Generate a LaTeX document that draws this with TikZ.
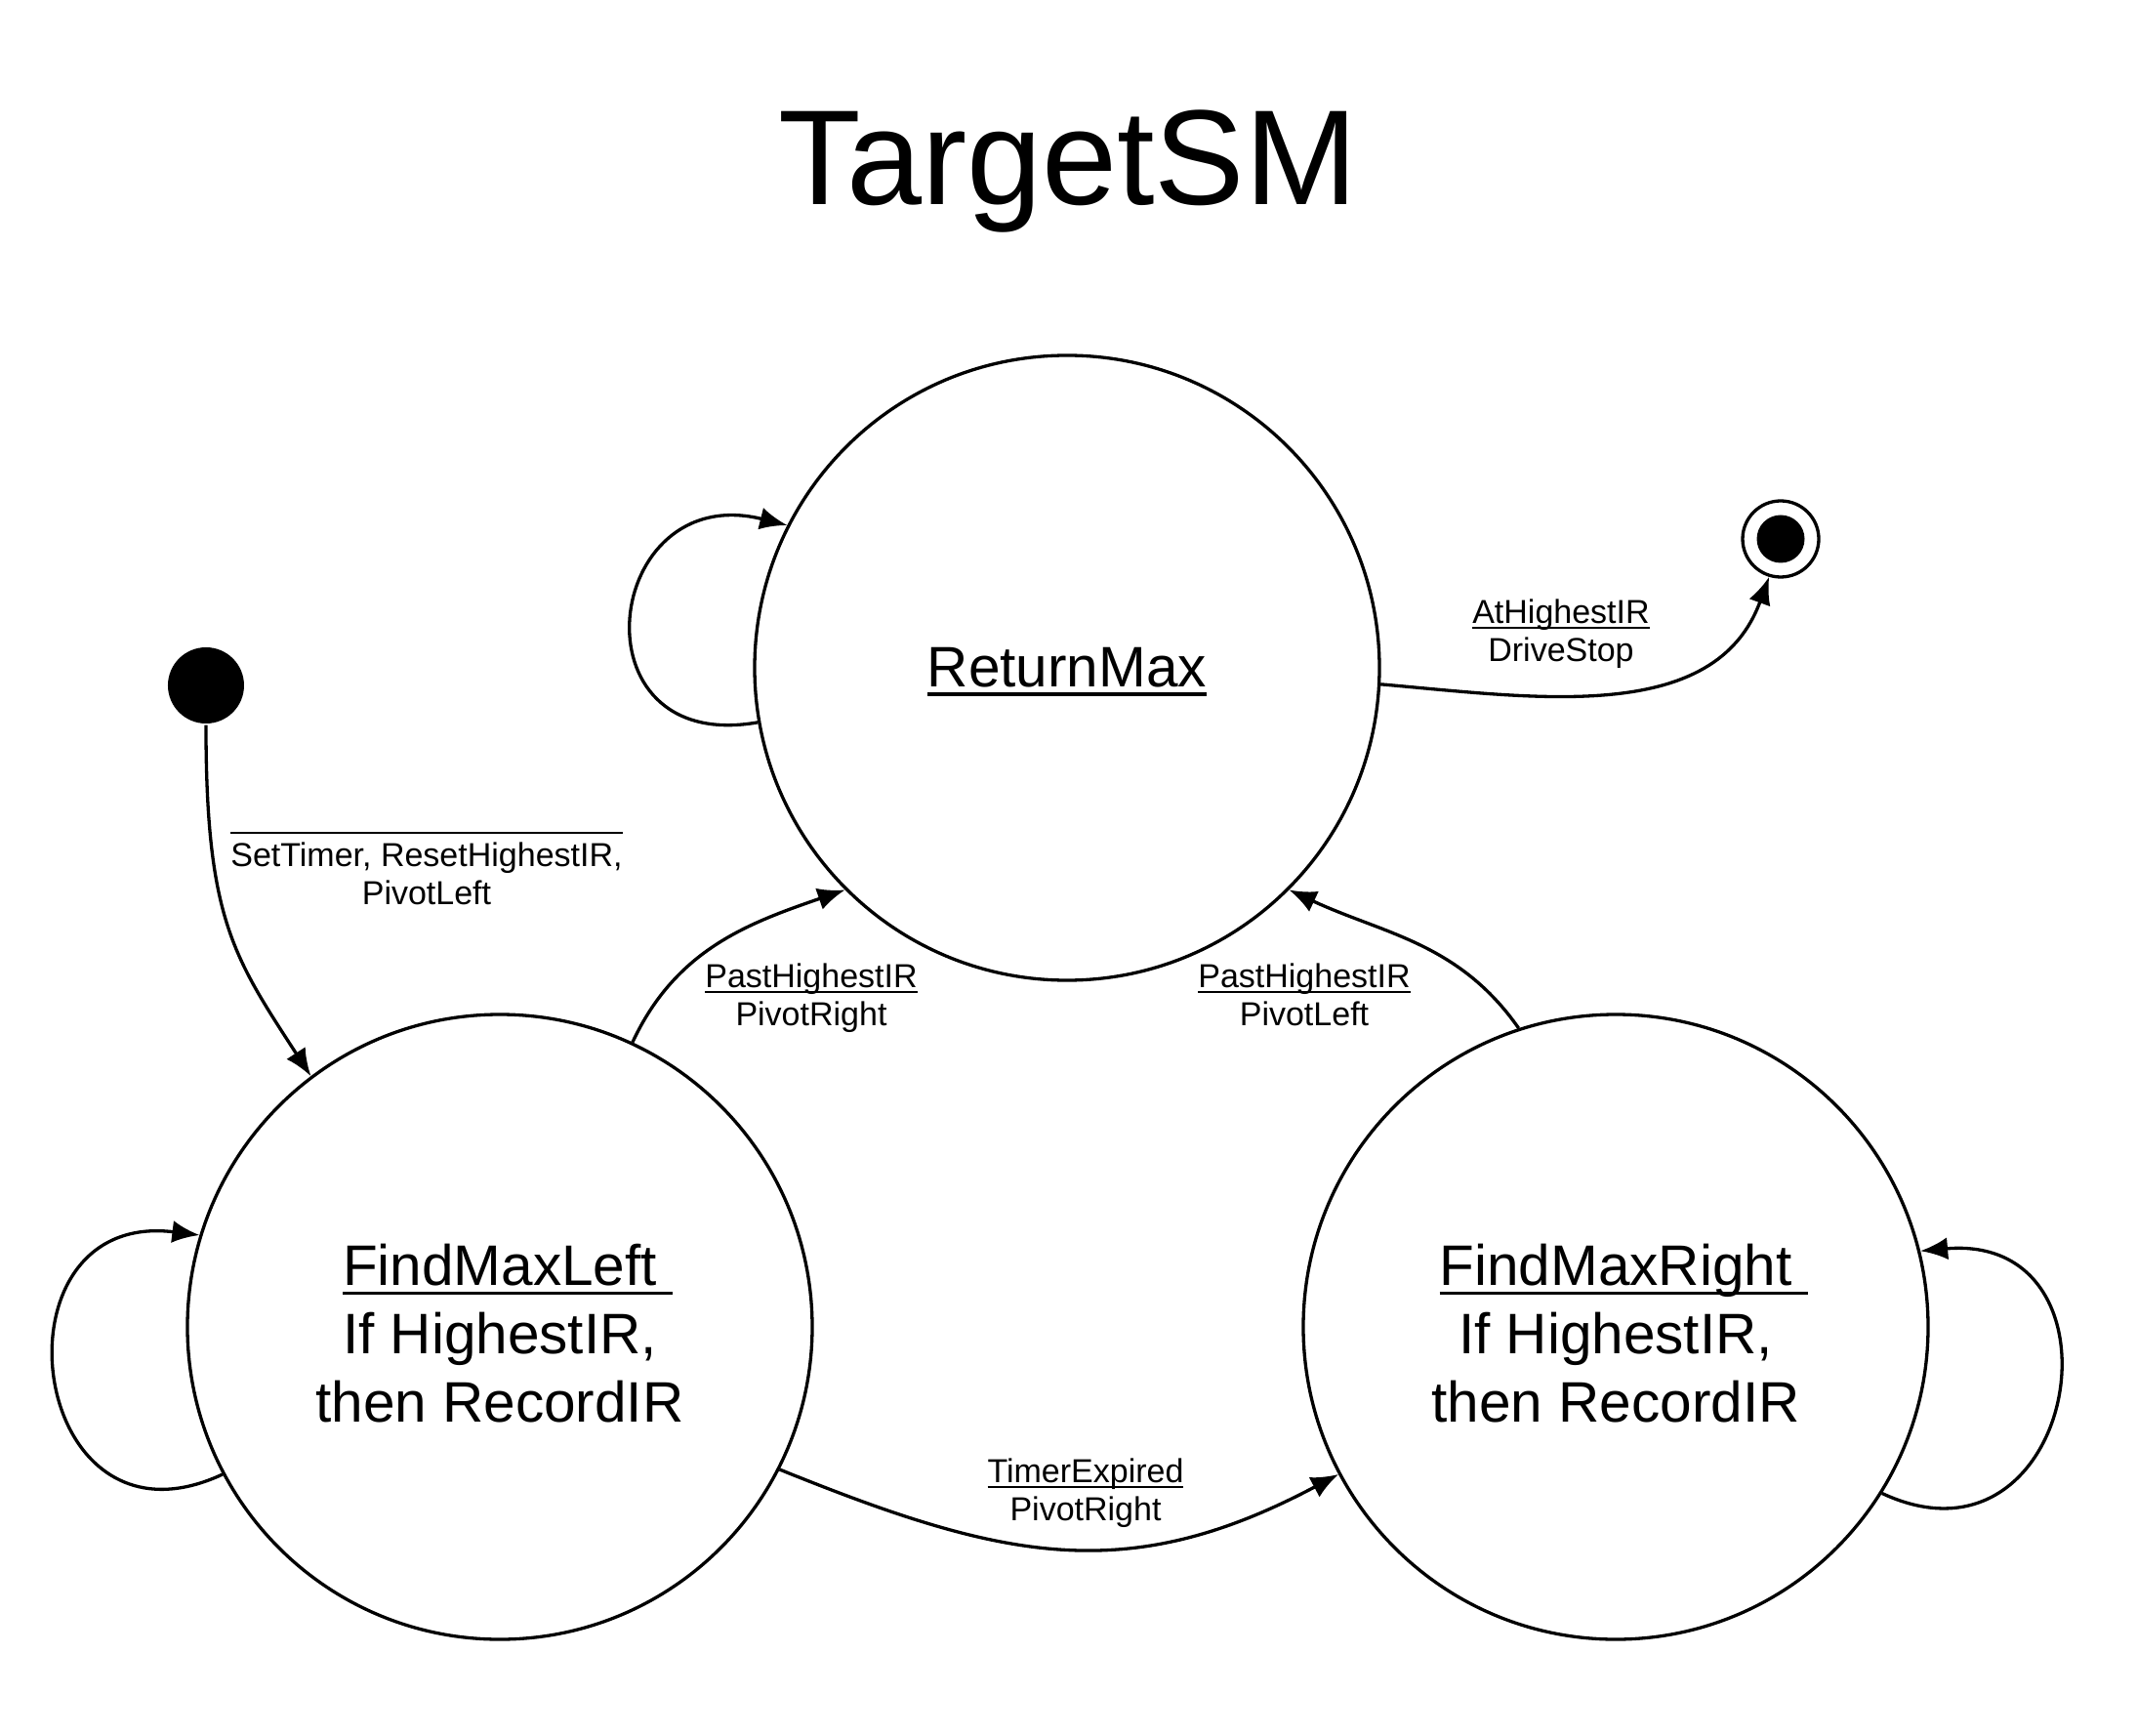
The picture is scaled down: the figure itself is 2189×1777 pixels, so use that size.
\documentclass[tikz,border=0pt]{standalone}
\usepackage{fontspec}
\setmainfont{Liberation Sans}
\usepackage{tikz}
\usetikzlibrary{positioning}
\usetikzlibrary{arrows.meta}

\newcommand\guard[1]{{\setbox0\hbox{#1}\rlap{\raisebox{-0.155em}[0pt][0pt]{\rule{\wd0}{0.06em}}}\box0}}
\newcommand\trans[2]{\guard{#1}\strut\\#2\strut}

\begin{document}
\begin{tikzpicture}[-{Latex[length=5.6pt,width=4.6pt]}, x = 0.2pt, y = 0.2pt,
                    on grid, line width = 0.66pt,
                    state/.style = {circle,
                                    draw,
                                    align = center,
                                    inner sep = 0pt,
                                    minimum size = 128pt,
                                    font = \fontsize{11.7}{14}\selectfont},
                    init/.style  = {circle,
                                    fill,
                                    inner sep = 0pt,
                                    minimum size = 15.6pt},
                    term/.style  = {circle,
                                    draw,
                                    inner sep = 0pt,
                                    minimum size = 15.6pt,
                                    path picture = {\fill (path picture bounding box.center) circle (4.9pt);}},
                    lbl/.style   = {align = center,
                                    inner sep = 0pt,
                                    font = \fontsize{6.8}{7.8}\selectfont}]

\useasboundingbox (0,0) rectangle (2189,1777);

\node (title) at (1094,1567) [anchor = base, font = \fontsize{27.7}{33}\selectfont] {TargetSM};

\node[state] (RM) at (1093,1093) {\guard{ReturnMax}};
\node[state] (FML) [below left = 135pt and 116.2pt of RM]
     {\rule{0pt}{11.3pt}\guard{FindMaxLeft}\rlap{\guard{\ }}\\If HighestIR,\\then RecordIR};
\node[state] (FMR) [below right = 135pt and 112.4pt of RM]
     {\rule{0pt}{11.3pt}\guard{FindMaxRight}\rlap{\guard{\ }}\\If HighestIR,\\then RecordIR};

\node[init] (I) [above left = 131.4pt and 60.2pt of FML] {};
\node[term] (F) [above right = 26.4pt and 146.2pt of RM] {};

\node[lbl] (lI) at (437,897)
     {\guard{\phantom{SetTimer, ResetHighestIR,}}\strut\\SetTimer, ResetHighestIR,\strut\\PivotLeft\strut};
\node[lbl] (lS) at (1599,1127)  {\trans{AtHighestIR}{DriveStop}};
\node[lbl] (lL) at (831,753.5)  {\trans{PastHighestIR}{PivotRight}};
\node[lbl] (lR) at (1336,753.5) {\trans{PastHighestIR}{PivotLeft}};
\node[lbl] (lT) at (1112,247)   {\trans{TimerExpired}{PivotRight}};

\path (I) edge [out = -90, in = 123, out looseness = 1.35] (FML.127);

\path (RM.190)  edge [out = 190, in = 166, looseness = 2.45] (RM.153);
\path (FML.208) edge [out = 205, in = 173, looseness = 2.3]  (FML.163);
\path (FMR.-32) edge [out = -25, in = 5, looseness = 2.25]   (FMR.14);

\path (FML.65)  edge [out = 65, in = 199]  (RM.225);
\path (FMR.108) edge [out = 125, in = -25] (RM.-45);
\path (FML.-27) edge [out = -22, in = 208, looseness = 1.1] (FMR.208);
\path (RM.-3)   edge [out = -5, in = -110] (F.-107);

\end{tikzpicture}
\end{document}
